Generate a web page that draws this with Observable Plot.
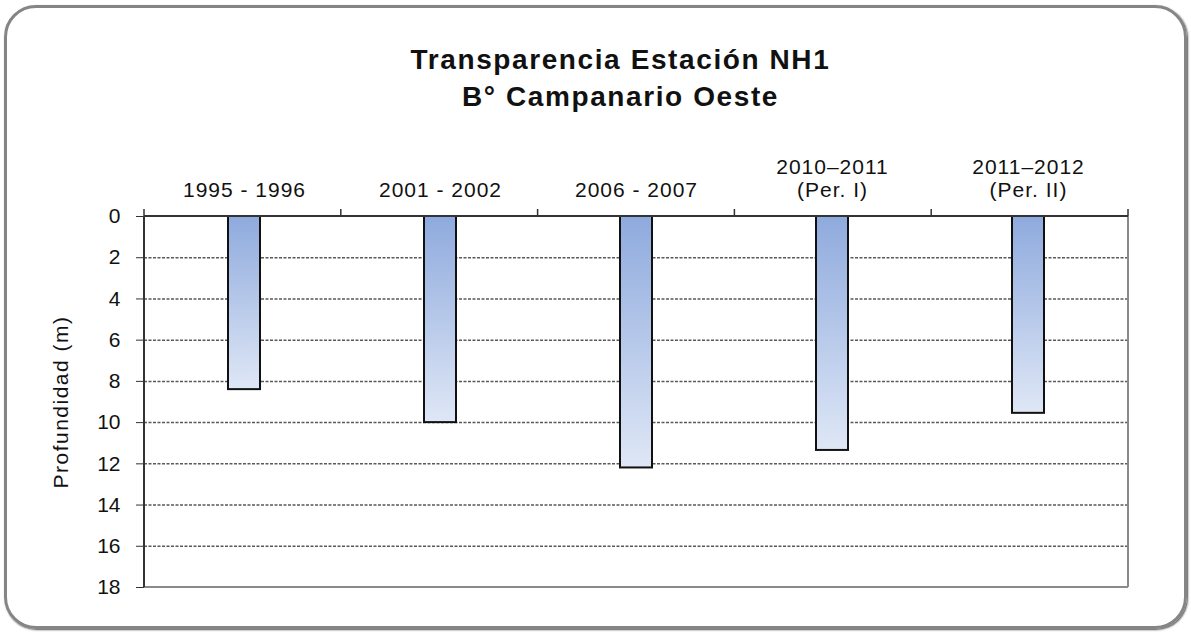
<!DOCTYPE html>
<html>
<head>
<meta charset="utf-8">
<script src="https://cdn.jsdelivr.net/npm/d3@7"></script>
<script src="https://cdn.jsdelivr.net/npm/@observablehq/plot@0.6"></script>
<style>
  body { margin: 0; background: #fff; }
  #wrap { position: relative; width: 1191px; height: 632px; background: #fff; overflow: hidden; font-family: "Liberation Sans", Arial, sans-serif; }
  #border { position: absolute; left: 4px; top: 5px; right: 4px; bottom: 3px; border: 3px solid #858585; border-radius: 32px; box-shadow: 1px 1px 2px #555; pointer-events: none; }
  #title { height: 125px; box-sizing: border-box; padding-top: 41px; padding-left: 50px; text-align: center; font: bold 28px/37px "Liberation Sans", Arial, sans-serif; letter-spacing: 1.6px; color: #111; }
  #chart svg { display: block; }
</style>
</head>
<body>
<div id="wrap">
  <div id="title">Transparencia Estación NH1<br>B° Campanario Oeste</div>
  <div id="chart"></div>
  <div id="border"></div>
</div>
<script>
const categories = ["1995 - 1996", "2001 - 2002", "2006 - 2007", "2010–2011\n(Per. I)", "2011–2012\n(Per. II)"];
const depths = [8.4, 10.0, 12.2, 11.35, 9.55];
const yTicks = [0, 2, 4, 6, 8, 10, 12, 14, 16, 18];
const yLabel = "Profundidad (m)";

const data = categories.map((c, i) => ({cat: c, value: depths[i]}));

function frameLines(index, scales, values, dims) {
  const {width, height, marginLeft, marginRight, marginTop, marginBottom} = dims;
  const x0 = marginLeft, x1 = width - marginRight, y0 = marginTop, y1 = height - marginBottom;
  const step = (x1 - x0) / categories.length;
  const g = d3.create("svg:g");
  g.append("line").attr("x1", x0).attr("x2", x1).attr("y1", y1).attr("y2", y1).attr("stroke", "#8a8a8a").attr("stroke-width", 2);
  g.append("line").attr("x1", x1).attr("x2", x1).attr("y1", y0).attr("y2", y1).attr("stroke", "#8a8a8a").attr("stroke-width", 2);
  g.append("line").attr("x1", x0).attr("x2", x1).attr("y1", y0).attr("y2", y0).attr("stroke", "#333").attr("stroke-width", 2);
  g.append("line").attr("x1", x0).attr("x2", x0).attr("y1", y0).attr("y2", y1).attr("stroke", "#333").attr("stroke-width", 2);
  for (let i = 0; i <= categories.length; i++) {
    const xx = x0 + i * step;
    g.append("line").attr("x1", xx).attr("x2", xx).attr("y1", y0 - 7).attr("y2", y0).attr("stroke", "#333").attr("stroke-width", 1.5);
  }
  return g.node();
}

const chart = Plot.plot({
  width: 1191,
  height: 507,
  marginTop: 91,
  marginBottom: 45,
  marginLeft: 144,
  marginRight: 63,
  style: {fontFamily: "'Liberation Sans', Arial, sans-serif", fontSize: "21px", color: "#111", background: "transparent"},
  x: {domain: categories, paddingInner: 0.837, paddingOuter: 0.4185, axis: null},
  y: {domain: [0, 18], reverse: true, axis: null},
  marks: [
    Plot.gridY(yTicks.filter(t => t > 0 && t < 18), {stroke: "#5a5a5a", strokeOpacity: 1, strokeWidth: 1.5, strokeDasharray: "3,1.5"}),
    Plot.axisX({anchor: "top", tickSize: 0, tickPadding: 20, fontSize: 21, lineHeight: 1.05, label: null, style: {letterSpacing: "1px"}}),
    Plot.axisY({ticks: yTicks, tickSize: 8, tickPadding: 16, tickFormat: d => String(d), fontSize: 21, label: null, stroke: "#333"}),
    Plot.text([yLabel], {frameAnchor: "left", textAnchor: "middle", rotate: -90, dx: -83, fontSize: 21, text: d => d, style: {letterSpacing: "1.5px"}}),
    Plot.barY(data, {x: "cat", y1: 0, y2: "value", fill: "url(#barGrad)", stroke: "#111", strokeWidth: 2}),
    frameLines
  ]
});

d3.select(chart).insert("defs", ":first-child").html(
  '<linearGradient id="barGrad" x1="0" y1="0" x2="0" y2="1">' +
  '<stop offset="0" stop-color="#8eaadd"/>' +
  '<stop offset="1" stop-color="#dfe7f6"/>' +
  '</linearGradient>'
);
d3.select(chart).selectAll("text").filter(function() { return this.textContent === yLabel; }).style("letter-spacing", "1.5px");
d3.select(chart).selectAll("[aria-label='x-axis tick label'] text").style("letter-spacing", "1px");

document.getElementById("chart").appendChild(chart);
</script>
</body>
</html>
